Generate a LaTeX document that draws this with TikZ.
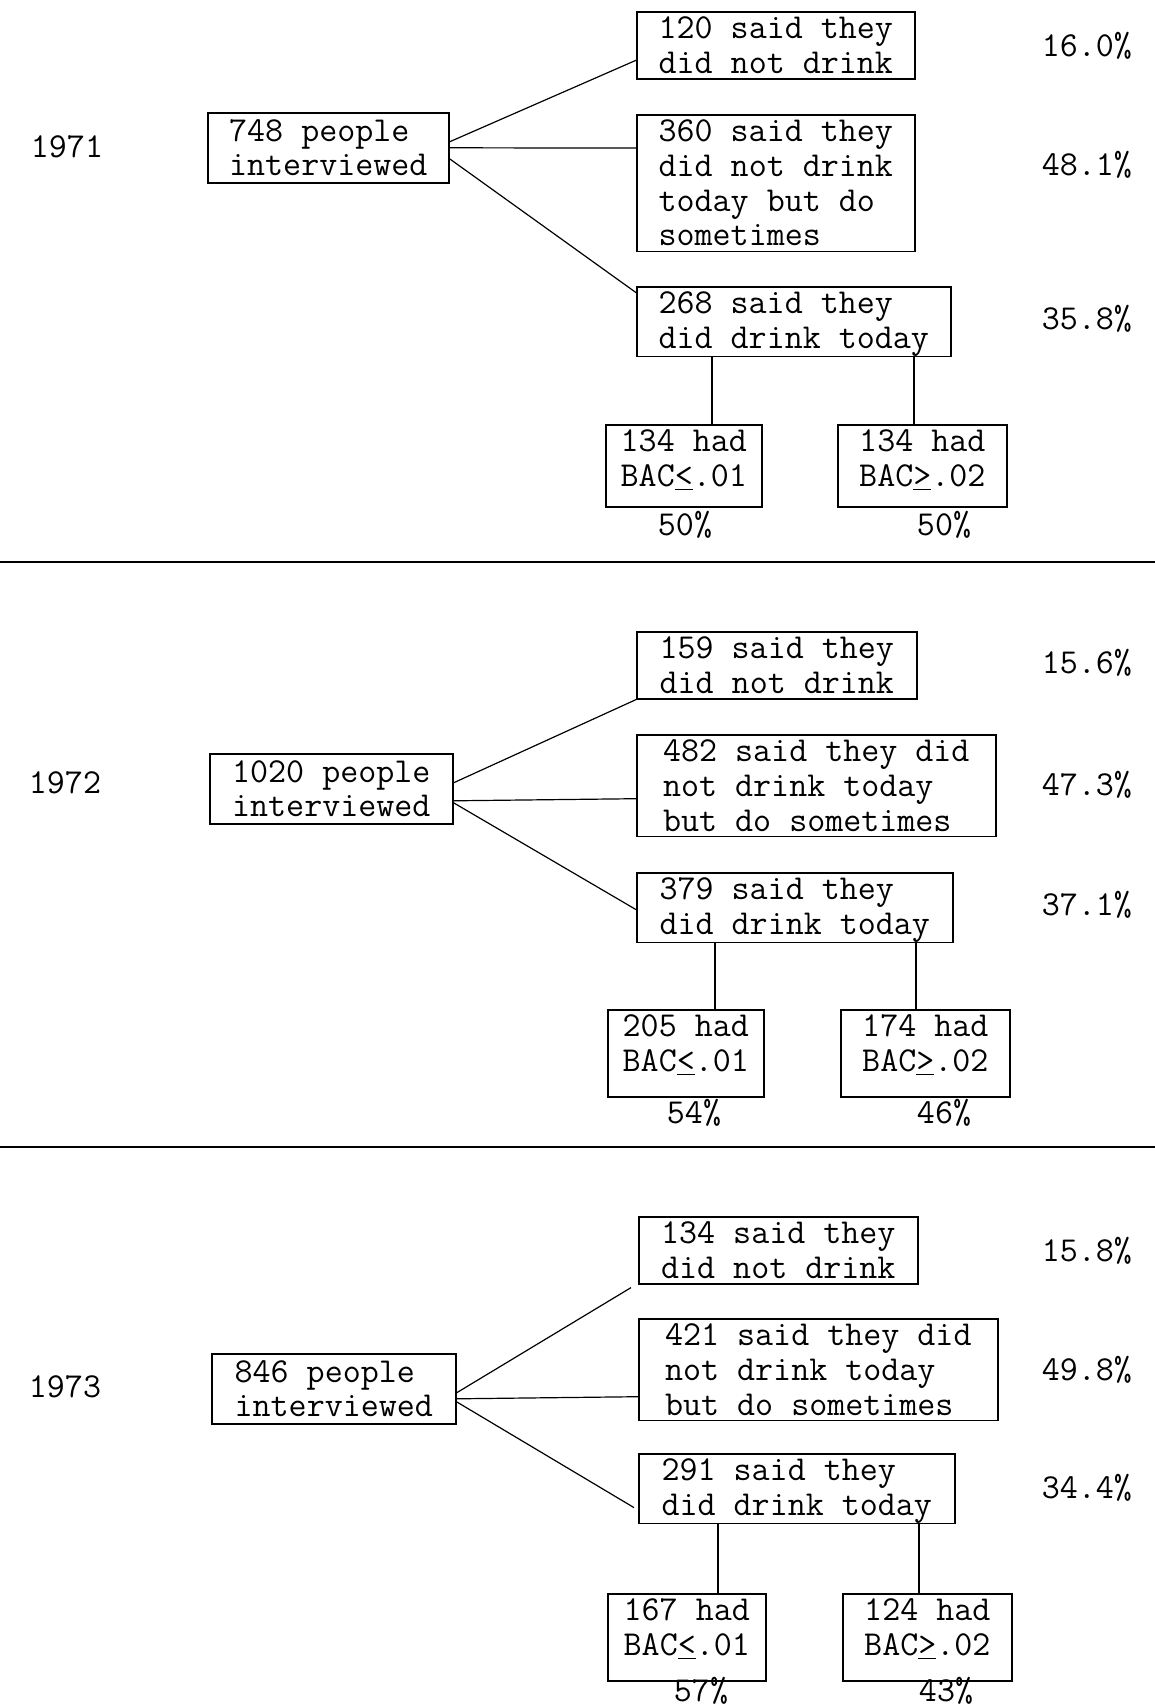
\documentclass[tikz,border=0pt]{standalone}
\usetikzlibrary{calc}
\newcommand\Tsp{\rule{0pt}{13.4pt}}
\newcommand\Bsp{\rule[-2.7pt]{0pt}{2.7pt}}
\begin{document}
\begin{tikzpicture}[x=0.5pt,y=-0.5pt,
  every node/.style={font=\ttfamily\fontsize{17.5}{17.4}\selectfont},
  box/.style={draw,line width=0.8pt,anchor=north west,align=left,inner xsep=0pt,inner ysep=0pt},
  rootbox/.style={box,inner ysep=0.75pt},
  sub/.style={box,text depth=10.2pt},
  subb/.style={box,text depth=12.7pt},
  pct/.style={anchor=east},
  lbl/.style={},
  conn/.style={line width=0.6pt},
  sep/.style={line width=1pt}]
\useasboundingbox (0,0) rectangle (1155,1706);

% ---------------- 1971
\node[lbl] (y1) at (67,147) {1971};
\node[rootbox,minimum width=120.5pt] (r1) at (207,112) {\Tsp748 people\\interviewed\Bsp};
\node[box,minimum width=139pt] (a1) at (636,11) {\Tsp120 said they\\did not drink\Bsp};
\node[box,minimum width=139pt] (b1) at (636,114) {\Tsp360 said they\\did not drink\\today but do\\sometimes\Bsp};
\node[box,minimum width=157pt] (c1) at (636,286) {\Tsp268 said they\\did drink today\Bsp};
\node[sub,minimum width=78pt] (l1) at (605,424) {\Tsp134 had\\BAC\underline{<}.01};
\node[sub,minimum width=84.5pt] (rr1) at (837,424) {\Tsp134 had\\BAC\underline{>}.02};
\node[pct] (pa1) at (1139,46) {16.0\%};
\node[pct] (pb1) at (1139,165) {48.1\%};
\node[pct] (pc1) at (1139,319) {35.8\%};
\node[lbl] (pl1) at (685,525) {50\%};
\node[lbl] (pr1) at (944,525) {50\%};
\draw[conn] ($(r1.east)+(0,-6)$) -- ($(a1.west)+(0,15)$);
\draw[conn] (r1.east) -- ($(b1.west)+(0,-35)$);
\draw[conn] ($(r1.east)+(0,11)$) -- ($(c1.west)+(0,-29)$);
\coordinate (v1l) at (712,0);
\coordinate (v1r) at (914,0);
\draw[conn] (c1.south -| v1l) -- (l1.north -| v1l);
\draw[conn] (c1.south -| v1r) -- (rr1.north -| v1r);
\coordinate (s1a) at (0,562);
\coordinate (s1b) at (1155,562);
\draw[sep] (s1a) -- (s1b);

% ---------------- 1972
\node[lbl] (y2) at (65,783) {1972};
\node[rootbox,minimum width=121.5pt] (r2) at (209,753) {\Tsp1020 people\\interviewed\Bsp};
\node[box,minimum width=140pt] (a2) at (636,631) {\Tsp159 said they\\did not drink\Bsp};
\node[box,minimum width=179.5pt] (b2) at (636,734) {\Tsp482 said they did\\not drink today\\but do sometimes\Bsp};
\node[box,minimum width=158pt] (c2) at (636,872) {\Tsp379 said they\\did drink today\Bsp};
\node[subb,minimum width=78pt] (l2) at (607,1009) {\Tsp205 had\\BAC\underline{<}.01};
\node[subb,minimum width=84.5pt] (rr2) at (840,1009) {\Tsp174 had\\BAC\underline{>}.02};
\node[pct] (pa2) at (1139,663) {15.6\%};
\node[pct] (pb2) at (1139,785) {47.3\%};
\node[pct] (pc2) at (1139,905) {37.1\%};
\node[lbl] (pl2) at (694,1113) {54\%};
\node[lbl] (pr2) at (944,1113) {46\%};
\draw[conn] ($(r2.east)+(0,-6)$) -- (a2.south west);
\draw[conn] ($(r2.east)+(0,12)$) -- ($(b2.west)+(0,13)$);
\draw[conn] ($(r2.east)+(0,14)$) -- ($(c2.west)+(0,2)$);
\coordinate (v2l) at (715,0);
\coordinate (v2r) at (916,0);
\draw[conn] (c2.south -| v2l) -- (l2.north -| v2l);
\draw[conn] (c2.south -| v2r) -- (rr2.north -| v2r);
\coordinate (s2a) at (0,1147);
\coordinate (s2b) at (1155,1147);
\draw[sep] (s2a) -- (s2b);

% ---------------- 1973
\node[lbl] (y3) at (65,1387) {1973};
\node[rootbox,minimum width=122pt] (r3) at (211,1353) {\Tsp846 people\\interviewed\Bsp};
\node[box,minimum width=139.5pt] (a3) at (638,1216) {\Tsp134 said they\\did not drink\Bsp};
\node[box,minimum width=179.5pt] (b3) at (638,1318) {\Tsp421 said they did\\not drink today\\but do sometimes\Bsp};
\node[box,minimum width=158pt] (c3) at (638,1453) {\Tsp291 said they\\did drink today\Bsp};
\node[subb,minimum width=79pt] (l3) at (607,1593) {\Tsp167 had\\BAC\underline{<}.01};
\node[subb,minimum width=84.5pt] (rr3) at (842,1593) {\Tsp124 had\\BAC\underline{>}.02};
\node[pct] (pa3) at (1139,1251) {15.8\%};
\node[pct] (pb3) at (1139,1370) {49.8\%};
\node[pct] (pc3) at (1139,1488) {34.4\%};
\node[lbl] (pl3) at (701,1691) {57\%};
\node[lbl] (pr3) at (946,1691) {43\%};
\draw[conn] ($(r3.east)+(0,4)$) -- ($(a3.south west)+(-7,3)$);
\draw[conn] ($(r3.east)+(0,10)$) -- ($(b3.west)+(0,27)$);
\draw[conn] ($(r3.east)+(0,13)$) -- ($(c3.west)+(-4,19)$);
\coordinate (v3l) at (718,0);
\coordinate (v3r) at (919,0);
\draw[conn] (c3.south -| v3l) -- (l3.north -| v3l);
\draw[conn] (c3.south -| v3r) -- (rr3.north -| v3r);
\end{tikzpicture}
\end{document}
